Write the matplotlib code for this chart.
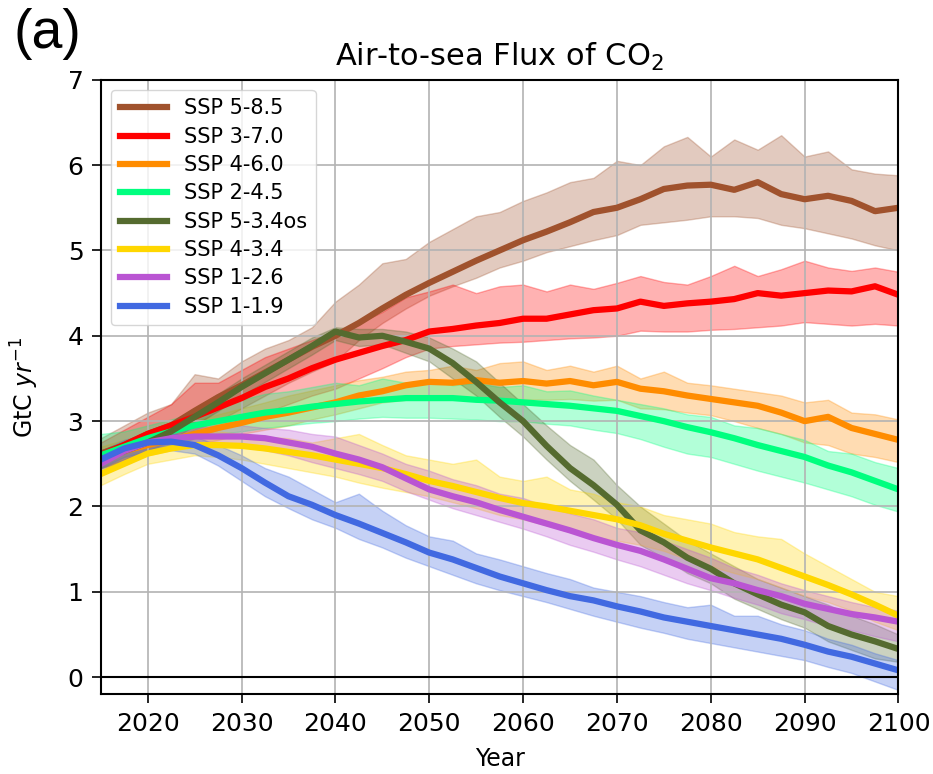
import matplotlib.pyplot as plt

# every 2.5 years, 2015-2100
years = [2015 + 2.5 * i for i in range(35)]

labels = ["SSP 5-8.5", "SSP 3-7.0", "SSP 4-6.0", "SSP 2-4.5",
          "SSP 5-3.4os", "SSP 4-3.4", "SSP 1-2.6", "SSP 1-1.9"]
colors = ["sienna", "red", "darkorange", "springgreen",
          "darkolivegreen", "gold", "mediumorchid", "royalblue"]

# ensemble mean and spread, GtC/yr
ssp585 = [2.62, 2.72, 2.85, 2.95, 3.12, 3.28, 3.42, 3.57, 3.72, 3.87, 4.0, 4.15, 4.32, 4.48, 4.62,
          4.75, 4.88, 5.0, 5.12, 5.22, 5.33, 5.45, 5.5, 5.6, 5.72, 5.76, 5.77, 5.71, 5.8, 5.66,
          5.6, 5.64, 5.58, 5.46, 5.5]
ssp585_hi = [2.8, 2.95, 3.1, 3.2, 3.55, 3.5, 3.7, 3.85, 3.95, 4.1, 4.4, 4.6, 4.85, 4.9, 5.1,
             5.25, 5.4, 5.45, 5.58, 5.68, 5.8, 5.85, 6.05, 6.0, 6.22, 6.33, 6.1, 6.3, 6.18, 6.35,
             6.1, 6.16, 5.95, 5.9, 5.88]
ssp585_lo = [2.45, 2.55, 2.65, 2.75, 2.9, 3.0, 3.15, 3.3, 3.45, 3.58, 3.7, 3.95, 4.15, 4.32, 4.47,
             4.58, 4.68, 4.8, 4.88, 4.98, 5.05, 5.12, 5.18, 5.3, 5.33, 5.36, 5.4, 5.4, 5.38, 5.3,
             5.26, 5.2, 5.14, 5.06, 5.0]

ssp370 = [2.6, 2.72, 2.85, 2.95, 3.05, 3.16, 3.27, 3.4, 3.5, 3.62, 3.72, 3.8, 3.88, 3.95, 4.05,
          4.08, 4.12, 4.15, 4.2, 4.2, 4.25, 4.3, 4.32, 4.4, 4.35, 4.38, 4.4, 4.43, 4.5, 4.47,
          4.5, 4.53, 4.52, 4.58, 4.48]
ssp370_hi = [2.75, 2.9, 3.05, 3.2, 3.45, 3.45, 3.6, 3.75, 3.85, 3.95, 4.05, 4.15, 4.28, 4.45, 4.52,
             4.6, 4.5, 4.58, 4.6, 4.52, 4.6, 4.55, 4.62, 4.7, 4.63, 4.6, 4.7, 4.82, 4.7, 4.78,
             4.88, 4.8, 4.76, 4.8, 4.75]
ssp370_lo = [2.45, 2.52, 2.62, 2.7, 2.8, 2.9, 3.0, 3.1, 3.2, 3.3, 3.38, 3.5, 3.62, 3.75, 3.85,
             3.88, 3.9, 3.92, 3.93, 3.95, 3.97, 3.98, 4.0, 4.06, 4.05, 4.05, 4.07, 4.08, 4.1, 4.12,
             4.16, 4.14, 4.12, 4.14, 4.12]

ssp460 = [2.58, 2.65, 2.72, 2.78, 2.85, 2.92, 2.98, 3.05, 3.1, 3.16, 3.22, 3.3, 3.35, 3.42, 3.46,
          3.45, 3.48, 3.45, 3.47, 3.44, 3.47, 3.42, 3.46, 3.38, 3.35, 3.3, 3.26, 3.22, 3.18, 3.1,
          3.0, 3.05, 2.92, 2.85, 2.78]
ssp460_hi = [2.7, 2.78, 2.85, 2.92, 3.0, 3.08, 3.15, 3.22, 3.3, 3.36, 3.42, 3.48, 3.52, 3.58, 3.6,
             3.65, 3.6, 3.68, 3.7, 3.6, 3.65, 3.58, 3.65, 3.5, 3.58, 3.45, 3.42, 3.38, 3.34, 3.3,
             3.22, 3.25, 3.1, 3.08, 3.02]
ssp460_lo = [2.45, 2.52, 2.6, 2.66, 2.72, 2.78, 2.85, 2.9, 2.95, 3.02, 3.08, 3.15, 3.22, 3.25, 3.28,
             3.27, 3.28, 3.26, 3.26, 3.25, 3.26, 3.24, 3.25, 3.15, 3.14, 3.1, 3.07, 3.0, 2.92, 2.85,
             2.75, 2.72, 2.62, 2.58, 2.52]

ssp245 = [2.6, 2.7, 2.8, 2.88, 2.95, 3.0, 3.05, 3.1, 3.13, 3.17, 3.2, 3.23, 3.25, 3.27, 3.27,
          3.27, 3.25, 3.24, 3.22, 3.2, 3.18, 3.15, 3.12, 3.06, 3.0, 2.93, 2.87, 2.8, 2.72, 2.65,
          2.58, 2.48, 2.4, 2.3, 2.2]
ssp245_hi = [2.85, 2.88, 2.95, 3.02, 3.1, 3.18, 3.25, 3.32, 3.35, 3.4, 3.45, 3.42, 3.5, 3.45, 3.48,
             3.42, 3.45, 3.4, 3.42, 3.35, 3.36, 3.3, 3.25, 3.2, 3.15, 3.08, 3.05, 2.95, 2.92, 2.85,
             2.78, 2.65, 2.62, 2.52, 2.45]
ssp245_lo = [2.4, 2.55, 2.65, 2.72, 2.8, 2.85, 2.88, 2.92, 2.95, 2.98, 3.0, 3.03, 3.05, 3.04, 3.04,
             3.03, 3.02, 3.0, 3.0, 2.97, 2.95, 2.9, 2.86, 2.79, 2.7, 2.62, 2.58, 2.5, 2.42, 2.35,
             2.28, 2.2, 2.12, 2.02, 1.94]

ssp534 = [2.55, 2.65, 2.75, 2.88, 3.05, 3.22, 3.4, 3.56, 3.72, 3.88, 4.05, 3.98, 4.0, 3.93, 3.85,
          3.68, 3.46, 3.22, 3.0, 2.71, 2.45, 2.25, 2.02, 1.72, 1.58, 1.4, 1.27, 1.1, 0.97, 0.85,
          0.76, 0.6, 0.5, 0.42, 0.33]
ssp534_hi = [2.65, 2.75, 2.85, 2.98, 3.15, 3.32, 3.5, 3.66, 3.82, 3.98, 4.1, 4.08, 4.08, 4.05, 3.98,
             3.85, 3.7, 3.45, 3.2, 2.95, 2.72, 2.55, 2.25, 2.0, 1.8, 1.6, 1.45, 1.3, 1.15, 1.05,
             0.95, 0.85, 0.72, 0.62, 0.5]
ssp534_lo = [2.45, 2.55, 2.65, 2.78, 2.95, 3.12, 3.3, 3.46, 3.62, 3.78, 3.95, 3.88, 3.9, 3.8, 3.7,
             3.5, 3.3, 3.05, 2.82, 2.55, 2.3, 2.08, 1.85, 1.55, 1.4, 1.22, 1.1, 0.92, 0.8, 0.68,
             0.58, 0.42, 0.32, 0.22, 0.18]

ssp434 = [2.38, 2.5, 2.62, 2.68, 2.72, 2.72, 2.71, 2.68, 2.64, 2.6, 2.55, 2.5, 2.45, 2.38, 2.3,
          2.24, 2.17, 2.1, 2.04, 2.0, 1.95, 1.9, 1.85, 1.78, 1.68, 1.6, 1.52, 1.45, 1.38, 1.28,
          1.18, 1.08, 0.97, 0.85, 0.72]
ssp434_hi = [2.5, 2.65, 2.75, 2.8, 2.85, 2.88, 2.85, 2.82, 2.8, 2.75, 2.8, 2.85, 2.72, 2.6, 2.55,
             2.5, 2.55, 2.35, 2.3, 2.35, 2.2, 2.15, 2.05, 2.0, 1.9, 1.85, 1.8, 1.7, 1.65, 1.62,
             1.45, 1.3, 1.15, 1.0, 0.95]
ssp434_lo = [2.25, 2.38, 2.5, 2.55, 2.6, 2.58, 2.55, 2.5, 2.45, 2.4, 2.35, 2.28, 2.22, 2.17, 2.12,
             2.05, 1.98, 1.9, 1.85, 1.78, 1.7, 1.65, 1.6, 1.55, 1.48, 1.38, 1.3, 1.22, 1.15, 1.05,
             0.95, 0.88, 0.78, 0.65, 0.55]

ssp126 = [2.5, 2.65, 2.75, 2.8, 2.82, 2.82, 2.82, 2.8, 2.75, 2.7, 2.62, 2.55, 2.46, 2.33, 2.2,
          2.12, 2.05, 1.96, 1.88, 1.8, 1.72, 1.63, 1.55, 1.48, 1.38, 1.27, 1.16, 1.1, 1.02, 0.95,
          0.86, 0.8, 0.74, 0.7, 0.65]
ssp126_hi = [2.6, 2.75, 2.85, 2.9, 2.92, 2.95, 2.95, 2.92, 2.9, 2.85, 2.82, 2.72, 2.62, 2.5, 2.42,
             2.32, 2.25, 2.15, 2.1, 2.0, 1.92, 1.85, 1.75, 1.7, 1.6, 1.5, 1.4, 1.28, 1.2, 1.1,
             1.02, 0.95, 0.88, 0.82, 0.78]
ssp126_lo = [2.4, 2.55, 2.65, 2.7, 2.72, 2.72, 2.7, 2.66, 2.6, 2.52, 2.45, 2.38, 2.3, 2.18, 2.08,
             1.98, 1.9, 1.82, 1.74, 1.65, 1.55, 1.47, 1.38, 1.3, 1.2, 1.1, 1.02, 0.93, 0.85, 0.75,
             0.68, 0.6, 0.55, 0.48, 0.42]

ssp119 = [2.55, 2.68, 2.75, 2.76, 2.72, 2.6, 2.45, 2.28, 2.12, 2.02, 1.9, 1.8, 1.69, 1.58, 1.46,
          1.38, 1.28, 1.18, 1.1, 1.02, 0.95, 0.9, 0.83, 0.77, 0.7, 0.65, 0.6, 0.55, 0.5, 0.45,
          0.38, 0.3, 0.24, 0.16, 0.08]
ssp119_hi = [2.65, 2.78, 2.85, 2.86, 2.82, 2.72, 2.6, 2.45, 2.35, 2.2, 2.05, 2.15, 1.95, 1.78, 1.65,
             1.6, 1.45, 1.38, 1.3, 1.22, 1.15, 1.05, 1.0, 0.95, 0.88, 0.82, 0.85, 0.72, 0.72, 0.62,
             0.55, 0.45, 0.38, 0.28, 0.2]
ssp119_lo = [2.45, 2.58, 2.65, 2.66, 2.62, 2.48, 2.3, 2.12, 1.98, 1.85, 1.75, 1.62, 1.52, 1.4, 1.3,
             1.2, 1.1, 1.02, 0.95, 0.88, 0.8, 0.72, 0.65, 0.58, 0.52, 0.45, 0.4, 0.35, 0.3, 0.25,
             0.2, 0.12, 0.05, -0.05, -0.15]

means = [ssp585, ssp370, ssp460, ssp245, ssp534, ssp434, ssp126, ssp119]
highs = [ssp585_hi, ssp370_hi, ssp460_hi, ssp245_hi, ssp534_hi, ssp434_hi, ssp126_hi, ssp119_hi]
lows = [ssp585_lo, ssp370_lo, ssp460_lo, ssp245_lo, ssp534_lo, ssp434_lo, ssp126_lo, ssp119_lo]

fig = plt.figure(figsize=(9.33, 7.74), dpi=100)
ax = fig.add_axes([0.108, 0.103, 0.855, 0.794])

for m, hi, lo, c, lab in zip(means, highs, lows, colors, labels):
    ax.fill_between(years, lo, hi, color=c, alpha=0.3)
    ax.plot(years, m, color=c, lw=4.5, label=lab)

ax.axhline(0, color="k", lw=1.5)
ax.set_xlim(2015, 2100)
ax.set_ylim(-0.2, 7)
ax.set_xticks(range(2020, 2101, 10))
ax.set_yticks(range(0, 8))
ax.tick_params(labelsize=18, length=6.5, width=1.2, pad=6)
ax.grid(True, color="0.7", lw=1.2)
for s in ax.spines.values():
    s.set_linewidth(1.5)

ax.set_xlabel("Year", fontsize=17)
ax.xaxis.set_label_coords(0.5, -0.085)
ax.set_ylabel("GtC $yr^{-1}$", fontsize=17)
ax.yaxis.set_label_coords(-0.075, 0.5)
ax.set_title("Air-to-sea Flux of CO$_2$", fontsize=22, pad=10)
fig.text(0.014, 0.99, "(a)", fontsize=40, family="Liberation Sans", va="top")

ax.legend(loc="upper left", fontsize=15, handlelength=2.3, labelspacing=0.4,
          borderaxespad=0.5)

fig.savefig("out.png", dpi=100)
